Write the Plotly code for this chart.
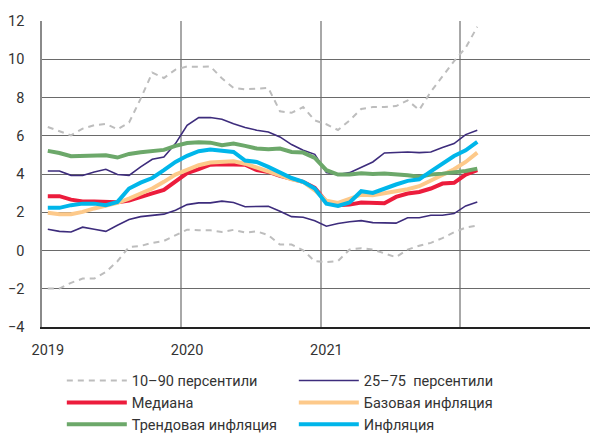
import plotly.graph_objects as go

# Monthly data, Jan 2019 – Feb 2022
months = ["2019-%02d" % m for m in range(1, 13)] + ["2020-%02d" % m for m in range(1, 13)] + \
         ["2021-%02d" % m for m in range(1, 13)] + ["2022-01", "2022-02"]

p90 = [6.46, 6.23, 6.02, 6.37, 6.55, 6.62, 6.34, 6.69, 7.94, 9.3, 9.02, 9.46,
       9.62, 9.6, 9.63, 9.0, 8.5, 8.43, 8.46, 8.5, 7.28, 7.2, 7.5, 6.8,
       6.6, 6.3, 6.8, 7.4, 7.5, 7.5, 7.55, 7.85, 7.35, 8.3, 9.1, 9.9,
       10.6, 11.7]
p10 = [-1.99, -1.99, -1.69, -1.47, -1.47, -1.12, -0.56, 0.19, 0.24, 0.4, 0.5, 0.8,
       1.09, 1.06, 1.06, 0.97, 1.08, 0.94, 1.0, 0.8, 0.31, 0.31, 0.01, -0.56,
       -0.6, -0.55, 0.05, 0.12, 0.05, -0.15, -0.35, 0.05, 0.25, 0.4, 0.65, 0.95,
       1.2, 1.3]
p75 = [4.16, 4.16, 3.93, 3.92, 4.11, 4.25, 3.97, 3.93, 4.37, 4.77, 4.89, 5.59,
       6.55, 6.95, 6.95, 6.86, 6.63, 6.43, 6.29, 6.2, 5.94, 5.54, 5.24, 5.03,
       4.08, 3.97, 4.07, 4.37, 4.63, 5.1, 5.12, 5.15, 5.12, 5.15, 5.38, 5.59,
       6.06, 6.29]
p25 = [1.11, 1.0, 0.97, 1.22, 1.11, 1.0, 1.32, 1.62, 1.77, 1.84, 1.9, 2.1,
       2.4, 2.49, 2.49, 2.58, 2.51, 2.29, 2.29, 2.31, 2.05, 1.77, 1.74, 1.55,
       1.27, 1.41, 1.5, 1.56, 1.46, 1.44, 1.43, 1.71, 1.71, 1.84, 1.84, 1.93,
       2.33, 2.54]
median = [2.84, 2.84, 2.66, 2.56, 2.56, 2.56, 2.52, 2.61, 2.82, 2.99, 3.17, 3.59,
          4.05, 4.25, 4.49, 4.51, 4.49, 4.49, 4.2, 4.11, 3.9, 3.72, 3.59, 3.27,
          2.55, 2.37, 2.4, 2.51, 2.47, 2.47, 2.8, 2.98, 3.06, 3.24, 3.5, 3.54,
          3.97, 4.2]
core = [1.97, 1.9, 1.9, 2.02, 2.2, 2.33, 2.49, 2.71, 2.98, 3.24, 3.59, 3.97,
        4.22, 4.46, 4.6, 4.63, 4.67, 4.54, 4.32, 4.14, 3.93, 3.72, 3.59, 3.15,
        2.6, 2.49, 2.68, 2.92, 2.89, 2.98, 3.1, 3.2, 3.36, 3.67, 3.97, 4.25,
        4.63, 5.12]
trend = [5.21, 5.1, 4.93, 4.93, 4.94, 4.98, 4.86, 5.05, 5.14, 5.19, 5.26, 5.47,
         5.62, 5.66, 5.64, 5.5, 5.59, 5.47, 5.33, 5.29, 5.33, 5.15, 5.12, 4.84,
         4.2, 3.97, 3.97, 4.04, 4.0, 4.02, 3.99, 3.93, 3.86, 3.97, 4.02, 4.07,
         4.16, 4.28]
inflation = [2.23, 2.23, 2.37, 2.45, 2.45, 2.37, 2.54, 3.24, 3.55, 3.79, 4.2, 4.63,
             4.95, 5.19, 5.28, 5.19, 5.15, 4.7, 4.63, 4.37, 4.07, 3.79, 3.59, 3.24,
             2.45, 2.33, 2.51, 3.1, 3.01, 3.24, 3.45, 3.64, 3.72, 4.14, 4.54, 4.94,
             5.24, 5.68]

year_labels = ["2019", "2020", "2021"]
y_ticks = [-4, -2, 0, 2, 4, 6, 8, 10, 12]

x = [i + 0.5 for i in range(len(months))]

GRAY = "#bdbdbd"
PURPLE = "#3d2c7c"
RED = "#ec1c3c"
ORANGE = "#fdc98a"
GREEN = "#6ca86a"
CYAN = "#00b6ea"

fig = go.Figure()
fig.add_trace(go.Scatter(x=x, y=p90, mode="lines", name="10–90 персентили",
                         line=dict(color=GRAY, width=2, dash="6px,5px"), legendgroup="a"))
fig.add_trace(go.Scatter(x=x, y=p10, mode="lines", name="10–90 персентили",
                         line=dict(color=GRAY, width=2, dash="6px,5px"), showlegend=False, legendgroup="a"))
fig.add_trace(go.Scatter(x=x, y=p75, mode="lines", name="25–75  персентили",
                         line=dict(color=PURPLE, width=1.6), legendgroup="b"))
fig.add_trace(go.Scatter(x=x, y=p25, mode="lines", name="25–75  персентили",
                         line=dict(color=PURPLE, width=1.6), showlegend=False, legendgroup="b"))
fig.add_trace(go.Scatter(x=x, y=median, mode="lines", name="Медиана",
                         line=dict(color=RED, width=4)))
fig.add_trace(go.Scatter(x=x, y=core, mode="lines", name="Базовая инфляция",
                         line=dict(color=ORANGE, width=4)))
fig.add_trace(go.Scatter(x=x, y=trend, mode="lines", name="Трендовая инфляция",
                         line=dict(color=GREEN, width=4)))
fig.add_trace(go.Scatter(x=x, y=inflation, mode="lines", name="Инфляция",
                         line=dict(color=CYAN, width=4)))

fig.update_layout(
    width=598, height=436,
    margin=dict(l=34, r=8, t=13, b=117, autoexpand=False),
    plot_bgcolor="white", paper_bgcolor="white",
    font=dict(family="Roboto, Noto Sans, sans-serif", size=14.5, color="#333333"),
    showlegend=True,
    legend=dict(orientation="h", xref="container", x=0.09, xanchor="left",
                yref="container", y=0.182, yanchor="top",
                entrywidth=157, entrywidthmode="pixels", font=dict(size=14.5),
                traceorder="normal", itemwidth=60, bgcolor="rgba(0,0,0,0)"),
    xaxis=dict(range=[0, 47.9], tickmode="array",
               tickvals=[0.5, 12.5, 24.5], ticktext=year_labels,
               showgrid=False, zeroline=False, ticks="", ticklabelstandoff=9,
               showline=True, linecolor="#222222", linewidth=1.5,
               minor=dict(tickmode="array", tickvals=[12, 24, 36], showgrid=True,
                          gridcolor="#a8a8a8", gridwidth=1.5, ticks="")),
    yaxis=dict(range=[-4, 12], tickmode="array", tickvals=y_ticks,
               showgrid=True, gridcolor="#6a6a6a", gridwidth=1.2,
               zeroline=False, ticks="", ticklabelstandoff=13,
               showline=True, linecolor="#8a8a8a", linewidth=1.5),
)

fig.write_html("out.html")
